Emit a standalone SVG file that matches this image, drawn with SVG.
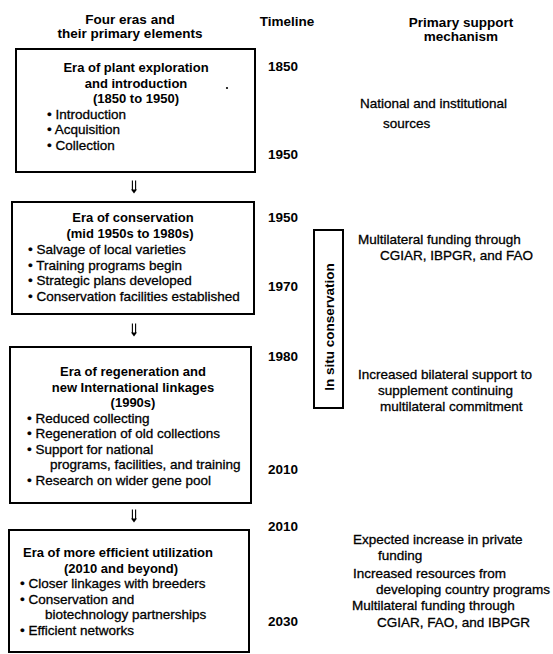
<svg xmlns="http://www.w3.org/2000/svg" width="553" height="654" viewBox="0 0 553 654">
<style>
text{font-family:"Liberation Sans",Arial,Helvetica,sans-serif;font-size:13.5px;fill:#000}
.b{font-weight:bold}
.t{font-size:13px}
.r{stroke:#000;stroke-width:0.3}
.c{text-anchor:middle}
.box{fill:none;stroke:#000;stroke-width:2}
</style>
<defs>
<g id="dn">
<path d="M-1.6,-6.5 V3 M1.6,-6.5 V3" stroke="#000" stroke-width="1.1" fill="none"/>
<path d="M-3,2.5 H3 L0,6.5 Z" fill="#000"/>
</g>
</defs>
<rect width="553" height="654" fill="#fff"/>

<g id="headers">
<text class="b c" x="130" y="24">Four eras and</text>
<text class="b c" x="130" y="38">their primary elements</text>
<text class="b c" x="287" y="26">Timeline</text>
<text class="b c" x="461" y="27">Primary support</text>
<text class="b c" x="461" y="41">mechanism</text>
</g>

<g id="era1">
<rect class="box" x="16" y="49" width="239" height="123"/>
<text class="b c t" x="136" y="72">Era of plant exploration</text>
<text class="b c t" x="136" y="87.5">and introduction</text>
<text class="b c t" x="136" y="103">(1850 to 1950)</text>
<text class="r" x="47" y="118.5">• Introduction</text>
<text class="r" x="47" y="134">• Acquisition</text>
<text class="r" x="47" y="149.5">• Collection</text>
<circle cx="227" cy="88" r="1.1" fill="#000"/>
</g>

<g id="era2">
<rect class="box" x="12" y="202" width="242" height="112"/>
<text class="b c t" x="133" y="222">Era of conservation</text>
<text class="b c t" x="130" y="238">(mid 1950s to 1980s)</text>
<text class="r" x="28" y="254">• Salvage of local varieties</text>
<text class="r" x="28" y="269.5">• Training programs begin</text>
<text class="r" x="28" y="285">• Strategic plans developed</text>
<text class="r" x="28" y="300.5">• Conservation facilities established</text>
</g>

<g id="era3">
<rect class="box" x="10" y="347" width="241" height="156"/>
<text class="b c t" x="133" y="376">Era of regeneration and</text>
<text class="b c t" x="133" y="391.5">new International linkages</text>
<text class="b c t" x="133" y="407">(1990s)</text>
<text class="r" x="27" y="422.5">• Reduced collecting</text>
<text class="r" x="27" y="438">• Regeneration of old collections</text>
<text class="r" x="27" y="453.5">• Support for national</text>
<text class="r" x="50" y="469">programs, facilities, and training</text>
<text class="r" x="27" y="484.5">• Research on wider gene pool</text>
</g>

<g id="era4">
<rect class="box" x="9" y="530" width="240" height="122"/>
<text class="b c t" x="118" y="557">Era of more efficient utilization</text>
<text class="b c t" x="121" y="572.5">(2010 and beyond)</text>
<text class="r" x="20" y="588">• Closer linkages with breeders</text>
<text class="r" x="20" y="603.5">• Conservation and</text>
<text class="r" x="45" y="619">biotechnology partnerships</text>
<text class="r" x="20" y="634.5">• Efficient networks</text>
</g>

<g id="timeline">
<text class="b" x="268" y="71">1850</text>
<text class="b" x="268" y="159">1950</text>
<text class="b" x="268" y="222">1950</text>
<text class="b" x="268" y="291">1970</text>
<text class="b" x="268" y="361">1980</text>
<text class="b" x="268" y="474">2010</text>
<text class="b" x="268" y="531">2010</text>
<text class="b" x="268" y="626">2030</text>
</g>

<g id="insitu">
<rect class="box" x="314" y="230" width="29" height="178"/>
<text class="b c" transform="translate(333.5,327) rotate(-90)">In situ conservation</text>
</g>

<g id="support">
<text class="r" x="360" y="108">National and institutional</text>
<text class="r" x="383" y="128">sources</text>
<text class="r" x="358" y="244">Multilateral funding through</text>
<text class="r" x="380" y="260">CGIAR, IBPGR, and FAO</text>
<text class="r" x="358" y="379">Increased bilateral support to</text>
<text class="r" x="378" y="395">supplement continuing</text>
<text class="r" x="380" y="411">multilateral commitment</text>
<text class="r" x="353" y="544">Expected increase in  private</text>
<text class="r" x="378" y="560">funding</text>
<text class="r" x="353" y="578">Increased resources from</text>
<text class="r" x="376" y="594">developing country programs</text>
<text class="r" x="352" y="610">Multilateral  funding through</text>
<text class="r" x="377" y="627">CGIAR, FAO, and IBPGR</text>
</g>

<g id="connectors">
<use href="#dn" x="134" y="187"/>
<use href="#dn" x="134" y="330"/>
<use href="#dn" x="134" y="516"/>
</g>
</svg>
